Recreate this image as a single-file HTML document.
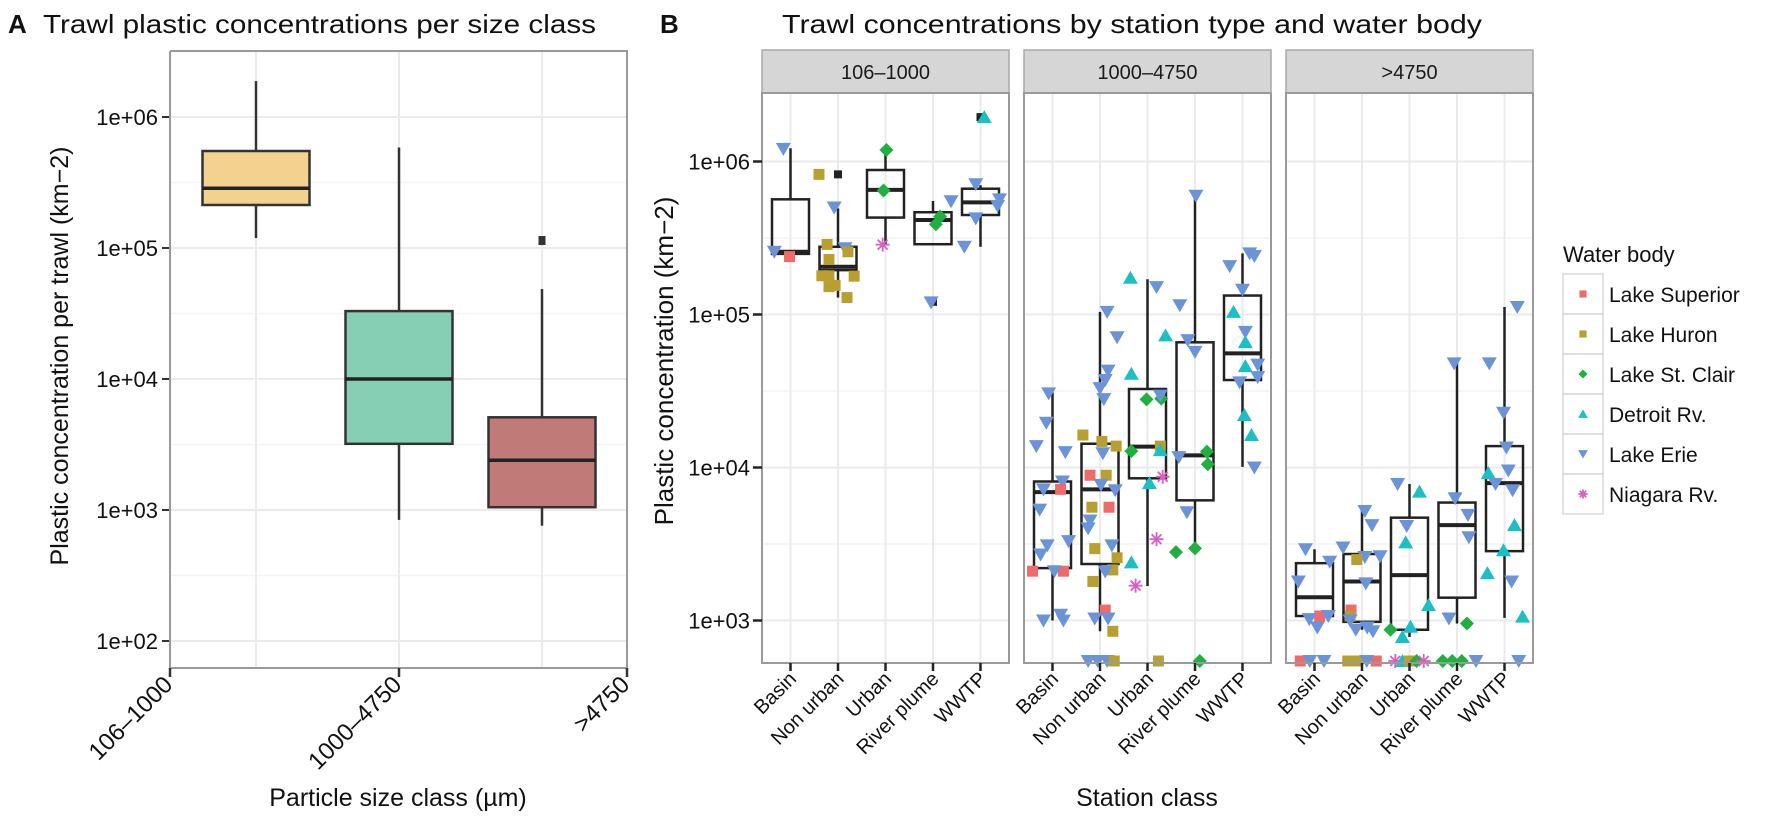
<!DOCTYPE html>
<html><head><meta charset="utf-8"><style>
html,body{margin:0;padding:0;background:#fff}
svg{display:block;font-family:"Liberation Sans",sans-serif}
</style></head><body>
<svg id="c" width="1772" height="820" viewBox="0 0 1772 820"></svg>
<script>
// ---------- Panel A data ----------
const aCats = ["106\u20131000", "1000\u20134750", ">4750"];
const aQ1 = [213000, 3200, 1050];
const aMed = [286000, 10000, 2400];
const aQ3 = [550000, 33000, 5100];
const aLo = [119000, 840, 760];
const aHi = [1880000, 585000, 48600];
const aOutliers = [[], [], [114000]];
const aFills = ["#f3d28f", "#86cfb4", "#c07a78"];
const aTicks = [100, 1000, 10000, 100000, 1000000];
const aTickLabels = ["1e+02", "1e+03", "1e+04", "1e+05", "1e+06"];

// ---------- Panel B data ----------
const bFacets = ["106\u20131000", "1000\u20134750", ">4750"];
const bCats = ["Basin", "Non urban", "Urban", "River plume", "WWTP"];
const bTicks = [1000, 10000, 100000, 1000000];
const bTickLabels = ["1e+03", "1e+04", "1e+05", "1e+06"];
const bodies = ["Lake Superior", "Lake Huron", "Lake St. Clair", "Detroit Rv.", "Lake Erie", "Niagara Rv."];
const bodyCodes = ["S", "H", "C", "D", "E", "N"];
// box stats per facet: [q1, median, q3, lowWhisker, highWhisker] per category
const box1 = [[249000,257000,566000,249000,1220000],[195000,205000,277000,129000,494000],[430000,652000,880000,285000,1190000],[288000,415000,466000,288000,552000],[447000,541000,664000,277000,700000]];
const box2 = [[2200,6900,8100,1000,31000],[2340,7200,14300,850,104000],[8500,13700,32600,1680,170000],[6100,12000,65800,2970,597000],[37300,55700,133000,10100,251000]];
const box3 = [[1070,1420,2370,1070,2920],[980,1800,2720,870,5250],[870,1980,4700,780,7800],[1410,4200,5900,955,47900],[2840,7900,13800,1040,112000]];
const outl1 = [[],[824000],[],[121000],[1950000]];
// points: [categoryIndex, bodyCode, value, jitter (category units)]
const pts1 = [
[0,"E",1210000,-0.15],[0,"E",257000,-0.34],[0,"S",239000,-0.02],
[1,"H",824000,-0.4],[1,"E",500000,-0.08],[1,"H",287000,-0.23],[1,"E",271000,0.15],[1,"H",257000,0.21],[1,"H",229000,-0.19],[1,"H",179000,-0.34],[1,"H",179000,-0.19],[1,"H",178000,0.34],[1,"H",152000,-0.19],[1,"H",155000,-0.06],[1,"H",129000,0.19],
[2,"C",1190000,0.02],[2,"C",646000,-0.04],[2,"N",286000,-0.06],
[3,"E",550000,0.38],[3,"C",437000,0.15],[3,"C",389000,0.06],[3,"E",120000,-0.04],
[4,"D",1950000,0.08],[4,"E",710000,-0.1],[4,"E",425000,-0.1],[4,"E",277000,-0.34],[4,"E",566000,0.4],[4,"E",513000,0.36]
];
const pts2 = [
[0,"E",30500,-0.08],[0,"E",19600,-0.13],[0,"E",13800,-0.34],[0,"E",12600,0.27],[0,"E",8100,0.21],[0,"E",7200,-0.19],[0,"S",7200,0.17],[0,"E",5300,-0.27],[0,"E",3100,-0.11],[0,"E",3300,0.34],[0,"E",2700,-0.25],[0,"S",2100,-0.42],[0,"S",2100,0.23],[0,"E",2100,0.04],[0,"E",1000,-0.19],[0,"E",1090,0.17],[0,"E",1000,0.23],
[1,"E",104000,0.15],[1,"E",71000,0.36],[1,"E",43000,0.17],[1,"E",37300,0.11],[1,"E",33000,0],[1,"E",28000,0.08],[1,"H",16300,-0.36],[1,"H",14800,0.04],[1,"H",13800,0.34],[1,"E",12400,0.06],[1,"S",8900,-0.21],[1,"H",8900,0.13],[1,"E",7700,0.02],[1,"E",7100,0.32],[1,"H",5500,-0.17],[1,"S",5500,0.19],[1,"E",4500,-0.21],[1,"E",4000,-0.25],[1,"E",3100,0.25],[1,"H",2950,-0.11],[1,"H",2570,0.36],[1,"H",2140,0.27],[1,"E",2090,0.11],[1,"H",1800,-0.15],[1,"S",1170,0.11],[1,"E",1030,-0.11],[1,"E",1030,0.17],[1,"H",850,0.27],
[1,"E",530,-0.25],[1,"E",530,-0.05],[1,"E",530,0.15],[1,"H",530,0.3],
[2,"D",174000,-0.36],[2,"E",151000,0.19],[2,"D",73000,0.38],[2,"D",41000,-0.34],[2,"C",27900,-0.02],[2,"C",28200,0.29],[2,"E",29500,0.27],[2,"C",12800,-0.34],[2,"H",13800,0.27],[2,"D",13000,0.27],[2,"N",8700,0.32],[2,"D",7900,0.04],[2,"N",3400,0.19],[2,"D",2400,-0.34],[2,"N",1690,-0.25],[2,"H",530,0.23],
[3,"E",597000,0.02],[3,"E",115000,-0.32],[3,"E",68000,-0.15],[3,"E",57000,0],[3,"E",11700,-0.34],[3,"C",12700,0.25],[3,"C",10500,0.27],[3,"E",5100,-0.17],[3,"C",2800,-0.4],[3,"C",2960,0],[3,"C",530,0.1],
[4,"E",251000,0.15],[4,"E",241000,0.25],[4,"E",207000,-0.27],[4,"E",145000,0],[4,"D",104000,-0.19],[4,"E",77000,0.06],[4,"D",66000,0.06],[4,"D",46000,0.06],[4,"E",47000,0.32],[4,"E",39000,0.32],[4,"E",36000,-0.06],[4,"D",22000,0.04],[4,"D",16300,0.19],[4,"E",10000,0.25]
];
const pts3 = [
[0,"E",2920,-0.19],[0,"E",2420,0.32],[0,"E",1800,-0.34],[0,"S",1070,0.11],[0,"E",1020,-0.11],[0,"E",1070,0.29],[0,"E",900,0.06],[0,"S",530,-0.3],[0,"E",530,-0.1],[0,"E",530,0.2],
[1,"E",5200,0.06],[1,"E",4200,0.21],[1,"E",3000,-0.4],[1,"E",2600,0.06],[1,"E",2630,0.38],[1,"H",2500,-0.11],[1,"E",1750,0.08],[1,"S",1170,-0.23],[1,"H",1070,-0.25],[1,"E",1000,-0.25],[1,"E",870,-0.13],[1,"E",900,0.11],[1,"E",850,0.23],[1,"H",530,-0.3],[1,"H",530,-0.1],[1,"S",530,0.3],[1,"E",530,0.1],
[2,"E",7800,-0.25],[2,"D",6950,0.21],[2,"E",4150,-0.06],[2,"D",3240,-0.08],[2,"D",1260,0.4],[2,"C",870,-0.4],[2,"D",910,0.02],[2,"D",780,-0.15],[2,"N",530,-0.3],[2,"D",530,-0.15],[2,"H",530,0],[2,"C",530,0.15],[2,"N",530,0.3],
[3,"E",47900,-0.06],[3,"E",6300,-0.04],[3,"E",4900,0.23],[3,"E",3500,0.25],[3,"E",1030,-0.17],[3,"C",955,0.21],[3,"C",530,-0.3],[3,"C",530,-0.1],[3,"C",530,0.1],[3,"E",530,0.4],
[4,"E",112000,0.27],[4,"E",47900,-0.32],[4,"E",22800,-0.02],[4,"E",13500,0.04],[4,"D",9200,-0.34],[4,"E",9550,0.08],[4,"E",7800,-0.19],[4,"E",7100,0.17],[4,"D",4200,0.21],[4,"D",2880,-0.02],[4,"D",2040,-0.36],[4,"E",1800,0.15],[4,"D",1060,0.38],[4,"E",530,0.3]
];
const bodyColors = {S:"#f06a6a",H:"#b8a030",C:"#1fb040",D:"#1bbfc4",E:"#6b93d8",N:"#d860c0"};

const NS = "http://www.w3.org/2000/svg";
const svg = document.getElementById("c");
function el(tag, attrs, parent, text) {
  const e = document.createElementNS(NS, tag);
  for (const k in attrs) e.setAttribute(k, attrs[k]);
  if (text !== undefined) e.textContent = text;
  (parent || svg).appendChild(e);
  return e;
}
function grp(name, parent) {
  const g = el("g", {}, parent);
  
  
  return g;
}

// ---------- Titles ----------
let t;
t = el("text", {x: 8, y: 33, "font-size": 26, "font-weight": "bold", fill: "#111"}, svg, "A");
 
t = el("text", {x: 43, y: 33, "font-size": 26, fill: "#111", textLength: 553, lengthAdjust: "spacingAndGlyphs"}, svg, "Trawl plastic concentrations per size class");
 
t = el("text", {x: 660, y: 33, "font-size": 26, "font-weight": "bold", fill: "#111"}, svg, "B");
 
t = el("text", {x: 782, y: 33, "font-size": 26, fill: "#111", textLength: 700, lengthAdjust: "spacingAndGlyphs"}, svg, "Trawl concentrations by station type and water body");
 

// ---------- Panel A ----------
const A = {left: 170, right: 627, top: 51, bottom: 668, y6: 117, dec: 131};
function ayScale(v) { return A.y6 - (Math.log10(v) - 6) * A.dec; }
const aCatX = i => 256 + i * 143;
const gA = grp("panel-a-plot");
el("rect", {x: A.left, y: A.top, width: A.right - A.left, height: A.bottom - A.top, fill: "#fff"}, gA);
// minor grid
for (let i = 0; i < aTicks.length; i++) {
  const ym = ayScale(aTicks[i] * Math.sqrt(10));
  if (ym > A.top) { const l = el("line", {x1: A.left, x2: A.right, y1: ym, y2: ym, stroke: "#f4f4f4", "stroke-width": 1.5}, gA);   }
}
const ym0 = ayScale(aTicks[0] / Math.sqrt(10));
if (ym0 < A.bottom) el("line", {x1: A.left, x2: A.right, y1: ym0, y2: ym0, stroke: "#f4f4f4", "stroke-width": 1.5}, gA);
aTicks.forEach((v, i) => {
  const y = ayScale(v);
  const l = el("line", {x1: A.left, x2: A.right, y1: y, y2: y, stroke: "#ebebeb", "stroke-width": 2}, gA);
   
  el("line", {x1: A.left - 8, x2: A.left, y1: y, y2: y, stroke: "#333", "stroke-width": 2}, gA);
  const tx = el("text", {x: A.left - 12, y: y + 8, "font-size": 22, "text-anchor": "end", fill: "#111"}, gA, aTickLabels[i]);
   
});
aCats.forEach((c, i) => {
  const x = aCatX(i);
  const l = el("line", {x1: x, x2: x, y1: A.top, y2: A.bottom, stroke: "#ebebeb", "stroke-width": 2}, gA);
   
});
aCats.forEach((c, i) => {
  const x = aCatX(i), w = 107;
  const g = grp("box-" + i, gA);
  el("line", {x1: x, x2: x, y1: ayScale(aHi[i]), y2: ayScale(aQ3[i]), stroke: "#333", "stroke-width": 2.5}, g);
  el("line", {x1: x, x2: x, y1: ayScale(aQ1[i]), y2: ayScale(aLo[i]), stroke: "#333", "stroke-width": 2.5}, g);
  el("rect", {x: x - w / 2, y: ayScale(aQ3[i]), width: w, height: ayScale(aQ1[i]) - ayScale(aQ3[i]), fill: aFills[i], stroke: "#333", "stroke-width": 2.5}, g);
  el("line", {x1: x - w / 2, x2: x + w / 2, y1: ayScale(aMed[i]), y2: ayScale(aMed[i]), stroke: "#222", "stroke-width": 3.5}, g);
  aOutliers[i].forEach(v => {
    const o = el("rect", {x: x - 3.5, y: ayScale(v) - 4.5, width: 7, height: 9, fill: "#333"}, g);
     
  });
});
el("polyline", {points: `${A.left},${A.top} ${A.right},${A.top} ${A.right},${A.bottom} ${A.left},${A.bottom} ${A.left},${A.top}`, fill: "none", stroke: "#9a9a9a", "stroke-width": 2}, gA);
const aTickX = [170, 399, 627];
aCats.forEach((c, i) => {
  const x = aTickX[i];
  el("line", {x1: x, x2: x, y1: A.bottom, y2: A.bottom + 9, stroke: "#333", "stroke-width": 2.5}, gA);
  const tx = el("text", {x: 0, y: 0, "font-size": 24, "text-anchor": "end", fill: "#111", transform: `translate(${x + 4},${A.bottom + 18}) rotate(-45)`}, gA, c);
   
});
t = el("text", {x: 398, y: 806, "font-size": 25, "text-anchor": "middle", fill: "#111"}, svg, "Particle size class (\u00b5m)");
 
t = el("text", {x: 0, y: 0, "font-size": 25, "text-anchor": "middle", fill: "#111", transform: "translate(68,356) rotate(-90)"}, svg, "Plastic concentration per trawl (km\u22122)");
 

// ---------- Panel B ----------
const B = {top: 93, bottom: 663, stripTop: 50, y6: 161.5, dec: 153, facetLeft: [762, 1024, 1286], facetW: 247};
function byScale(v) { return B.y6 - (Math.log10(v) - 6) * B.dec; }
const step = B.facetW / 5.2;
function bCatX(f, i) { return B.facetLeft[f] + step * 0.6 + i * step; }

function shape(parent, code, x, y, s) {
  const c = bodyColors[code];
  let e;
  if (code === "E") e = el("polygon", {points: `${x - 7.5*s},${y - 6*s} ${x + 7.5*s},${y - 6*s} ${x},${y + 7*s}`, fill: c}, parent);
  else if (code === "D") e = el("polygon", {points: `${x - 7.5*s},${y + 6*s} ${x + 7.5*s},${y + 6*s} ${x},${y - 7*s}`, fill: c}, parent);
  else if (code === "C") e = el("polygon", {points: `${x},${y - 7*s} ${x + 7*s},${y} ${x},${y + 7*s} ${x - 7*s},${y}`, fill: c}, parent);
  else if (code === "H" || code === "S") e = el("rect", {x: x - 5.5*s, y: y - 5.5*s, width: 11*s, height: 11*s, fill: c}, parent);
  else {
    e = el("g", {stroke: c, "stroke-width": 1.8}, parent);
    for (let k = 0; k < 4; k++) {
      const a = k * Math.PI / 4, r = 7 * s;
      el("line", {x1: x - r * Math.cos(a), y1: y - r * Math.sin(a), x2: x + r * Math.cos(a), y2: y + r * Math.sin(a)}, e);
    }
  }
  return e;
}

const allBoxes = [box1, box2, box3];
const allPts = [pts1, pts2, pts3];
const allOut = [outl1, [[],[],[],[],[]], [[],[],[],[],[]]];
bFacets.forEach((fname, f) => {
  const L = B.facetLeft[f], R = L + B.facetW;
  const g = grp("facet-" + (f + 1));
  // strip
  const sr = el("rect", {x: L, y: B.stripTop, width: B.facetW, height: B.top - B.stripTop, fill: "#d6d6d6", stroke: "#a8a8a8", "stroke-width": 1.5}, g);
   
  const st = el("text", {x: L + B.facetW / 2, y: B.stripTop + 29, "font-size": 20, "text-anchor": "middle", fill: "#1a1a1a"}, g, fname);
   
  el("rect", {x: L, y: B.top, width: B.facetW, height: B.bottom - B.top, fill: "#fff"}, g);
  // grid
  bTicks.forEach(v => {
    const y = byScale(v);
    el("line", {x1: L, x2: R, y1: y, y2: y, stroke: "#ebebeb", "stroke-width": 2}, g);
    const ym = byScale(v * Math.sqrt(10));
    if (ym > B.top) el("line", {x1: L, x2: R, y1: ym, y2: ym, stroke: "#f4f4f4", "stroke-width": 1.5}, g);
  });
  const ymb = byScale(bTicks[0] / Math.sqrt(10));
  if (ymb < B.bottom) el("line", {x1: L, x2: R, y1: ymb, y2: ymb, stroke: "#f4f4f4", "stroke-width": 1.5}, g);
  bCats.forEach((c, i) => {
    const x = bCatX(f, i);
    el("line", {x1: x, x2: x, y1: B.top, y2: B.bottom, stroke: "#ebebeb", "stroke-width": 2}, g);
  });
  // boxes
  allBoxes[f].forEach((b, i) => {
    const x = bCatX(f, i), w = 37;
    const bg = grp("box-" + (f + 1) + "-" + i, g);
    el("line", {x1: x, x2: x, y1: byScale(b[4]), y2: byScale(b[2]), stroke: "#222", "stroke-width": 2.5}, bg);
    el("line", {x1: x, x2: x, y1: byScale(b[0]), y2: byScale(b[3]), stroke: "#222", "stroke-width": 2.5}, bg);
    el("rect", {x: x - w / 2, y: byScale(b[2]), width: w, height: byScale(b[0]) - byScale(b[2]), fill: "none", stroke: "#222", "stroke-width": 2.5}, bg);
    el("line", {x1: x - w / 2, x2: x + w / 2, y1: byScale(b[1]), y2: byScale(b[1]), stroke: "#222", "stroke-width": 4}, bg);
    allOut[f][i].forEach(v => {
      const o = el("rect", {x: x - 4, y: byScale(v) - 4, width: 8, height: 8, fill: "#222"}, bg);
       
    });
  });
  // points
  const pg = grp("points-facet-" + (f + 1), g);
  allPts[f].forEach(p => {
    const x = bCatX(f, p[0]) + p[3] * step;
    const y = Math.min(byScale(p[2]), B.bottom - 2);
    const m = shape(pg, p[1], x, y, 1);
    
    
  });
  el("rect", {x: L, y: B.top, width: B.facetW, height: B.bottom - B.top, fill: "none", stroke: "#9a9a9a", "stroke-width": 2}, g);
  // x ticks
  bCats.forEach((c, i) => {
    const x = bCatX(f, i);
    el("line", {x1: x, x2: x, y1: B.bottom, y2: B.bottom + 8, stroke: "#222", "stroke-width": 2.5}, g);
    const tx = el("text", {x: 0, y: 0, "font-size": 20, "text-anchor": "end", fill: "#111", transform: `translate(${x + 7},${B.bottom + 17}) rotate(-45)`}, g, c);
     
  });
});
// B y axis
bTicks.forEach((v, i) => {
  const y = byScale(v);
  el("line", {x1: 753, x2: 762, y1: y, y2: y, stroke: "#222", "stroke-width": 2.5});
  const tx = el("text", {x: 750, y: y + 8, "font-size": 22, "text-anchor": "end", fill: "#111"}, svg, bTickLabels[i]);
   
});
t = el("text", {x: 0, y: 0, "font-size": 26, "text-anchor": "middle", fill: "#111", transform: "translate(673,361) rotate(-90)"}, svg, "Plastic concentration (km\u22122)");
 
t = el("text", {x: 1147, y: 806, "font-size": 25, "text-anchor": "middle", fill: "#111"}, svg, "Station class");
 

// ---------- Legend ----------
const lg = grp("legend");
t = el("text", {x: 1563, y: 262, "font-size": 22, fill: "#111"}, lg, "Water body");
 
bodies.forEach((b, i) => {
  const y0 = 274 + i * 40;
  const eg = grp("legend-entry", lg);
  el("rect", {x: 1563, y: y0, width: 40, height: 40, fill: "#fff", stroke: "#d8d8d8", "stroke-width": 1.5}, eg);
  shape(eg, bodyCodes[i], 1583, y0 + 20, 0.65);
  el("text", {x: 1609, y: y0 + 28, "font-size": 21, fill: "#111"}, eg, b);
});
</script>
</body></html>
